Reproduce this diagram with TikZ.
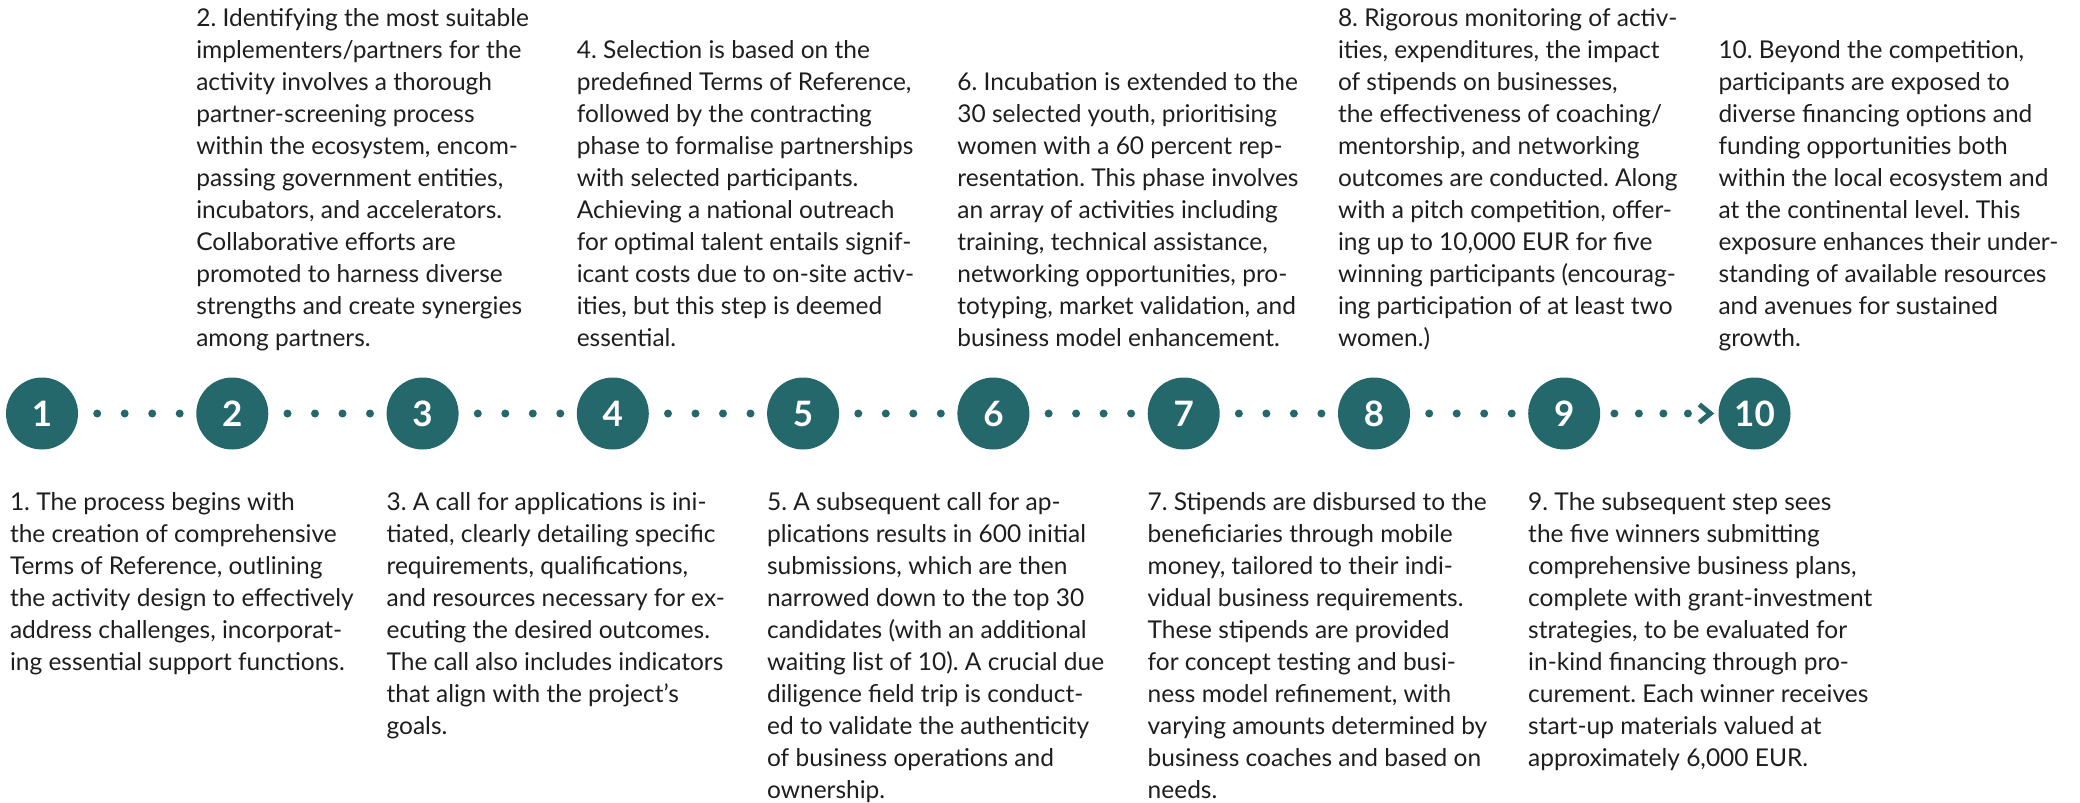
\documentclass[tikz,border=0pt]{standalone}
\usepackage{fontspec}
\setmainfont{Lato}
\frenchspacing
\definecolor{tealc}{HTML}{25686C}
\definecolor{txtc}{HTML}{1E1E1E}
\newcommand{\descfont}{\fontsize{24.5}{32}\selectfont}
\tikzset{
  stepcirc/.style={circle, fill=tealc, minimum size=72pt, inner sep=0pt, text=white,
    font=\fontsize{35}{35}\selectfont\bfseries},
  dotline/.style={tealc, line width=8pt, line cap=round, dash pattern=on 0pt off 27.5pt},
  lastdots/.style={tealc, line width=8pt, line cap=round, dash pattern=on 0pt off 24.5pt},
  chev/.style={tealc, line width=5pt, miter limit=10},
  desc/.style={inner sep=0pt, anchor=base west, text=txtc, font=\descfont},
}
\newcommand{\topbox}[1]{\begin{minipage}[b]{380pt}\frenchspacing\descfont #1\end{minipage}}
\newcommand{\botbox}[1]{\begin{minipage}[t]{380pt}\frenchspacing\descfont #1\end{minipage}}
\begin{document}
\begin{tikzpicture}[x=1pt, y=-1pt]
\useasboundingbox (0,0) rectangle (2080,803);
\coordinate (topline) at (0,346);
\coordinate (botline) at (0,510);
% circles
\node[stepcirc] (c1) at (42,413.5) {1};
\node[stepcirc] (c2) at (232.3,413.5) {2};
\node[stepcirc] (c3) at (422.6,413.5) {3};
\node[stepcirc] (c4) at (612.8,413.5) {4};
\node[stepcirc] (c5) at (803.1,413.5) {5};
\node[stepcirc] (c6) at (993.4,413.5) {6};
\node[stepcirc] (c7) at (1183.7,413.5) {7};
\node[stepcirc] (c8) at (1374,413.5) {8};
\node[stepcirc] (c9) at (1564.2,413.5) {9};
\node[stepcirc] (c10) at (1754.5,413.5) {10};
% dotted connectors
\foreach \a/\b in {c1/c2,c2/c3,c3/c4,c4/c5,c5/c6,c6/c7,c7/c8,c8/c9}
  \draw[dotline, shorten <=19pt, shorten >=16pt] (\a) -- (\b);
\draw[lastdots, shorten <=14pt, shorten >=29pt] (c9) -- (c10);
\draw[chev] ([shift={(-19,-9)}]c10.west) -- ([shift={(-8,0)}]c10.west) -- ([shift={(-19,9)}]c10.west);
% top texts
\node[desc] (t2) at (c2.west |- topline) {\topbox{%
2. Identifying the most suitable\\
implementers/partners for the\\
activity involves a thorough\\
partner-screening process\\
within the ecosystem, encom-\\
passing government entities,\\
incubators, and accelerators.\\
Collaborative efforts are\\
promoted to harness diverse\\
strengths and create synergies\\
among partners.}};
\node[desc] (t4) at (c4.west |- topline) {\topbox{%
4. Selection is based on the\\
predefined Terms of Reference,\\
followed by the contracting\\
phase to formalise partnerships\\
with selected participants.\\
Achieving a national outreach\\
for optimal talent entails signif-\\
icant costs due to on-site activ-\\
ities, but this step is deemed\\
essential.}};
\node[desc] (t6) at (c6.west |- topline) {\topbox{%
6. Incubation is extended to the\\
30 selected youth, prioritising\\
women with a 60 percent rep-\\
resentation. This phase involves\\
an array of activities including\\
training, technical assistance,\\
networking opportunities, pro-\\
totyping, market validation, and\\
business model enhancement.}};
\node[desc] (t8) at (c8.west |- topline) {\topbox{%
8. Rigorous monitoring of activ-\\
ities, expenditures, the impact\\
of stipends on businesses,\\
the effectiveness of coaching/\\
mentorship, and networking\\
outcomes are conducted. Along\\
with a pitch competition, offer-\\
ing up to 10,000 EUR for five\\
winning participants (encourag-\\
ing participation of at least two\\
women.)}};
\node[desc] (t10) at (c10.west |- topline) {\topbox{%
10. Beyond the competition,\\
participants are exposed to\\
diverse financing options and\\
funding opportunities both\\
within the local ecosystem and\\
at the continental level. This\\
exposure enhances their under-\\
standing of available resources\\
and avenues for sustained\\
growth.}};
% bottom texts
\node[desc] (t1) at ([xshift=4pt]c1.west |- botline) {\botbox{%
1. The process begins with\\
the creation of comprehensive\\
Terms of Reference, outlining\\
the activity design to effectively\\
address challenges, incorporat-\\
ing essential support functions.}};
\node[desc] (t3) at (c3.west |- botline) {\botbox{%
3. A call for applications is ini-\\
tiated, clearly detailing specific\\
requirements, qualifications,\\
and resources necessary for ex-\\
ecuting the desired outcomes.\\
The call also includes indicators\\
that align with the project’s\\
goals.}};
\node[desc] (t5) at (c5.west |- botline) {\botbox{%
5. A subsequent call for ap-\\
plications results in 600 initial\\
submissions, which are then\\
narrowed down to the top 30\\
candidates (with an additional\\
waiting list of 10). A crucial due\\
diligence field trip is conduct-\\
ed to validate the authenticity\\
of business operations and\\
ownership.}};
\node[desc] (t7) at (c7.west |- botline) {\botbox{%
7. Stipends are disbursed to the\\
beneficiaries through mobile\\
money, tailored to their indi-\\
vidual business requirements.\\
These stipends are provided\\
for concept testing and busi-\\
ness model refinement, with\\
varying amounts determined by\\
business coaches and based on\\
needs.}};
\node[desc] (t9) at (c9.west |- botline) {\botbox{%
9. The subsequent step sees\\
the five winners submitting\\
comprehensive business plans,\\
complete with grant-investment\\
strategies, to be evaluated for\\
in-kind financing through pro-\\
curement. Each winner receives\\
start-up materials valued at\\
approximately 6,000 EUR.}};
\end{tikzpicture}
\end{document}
